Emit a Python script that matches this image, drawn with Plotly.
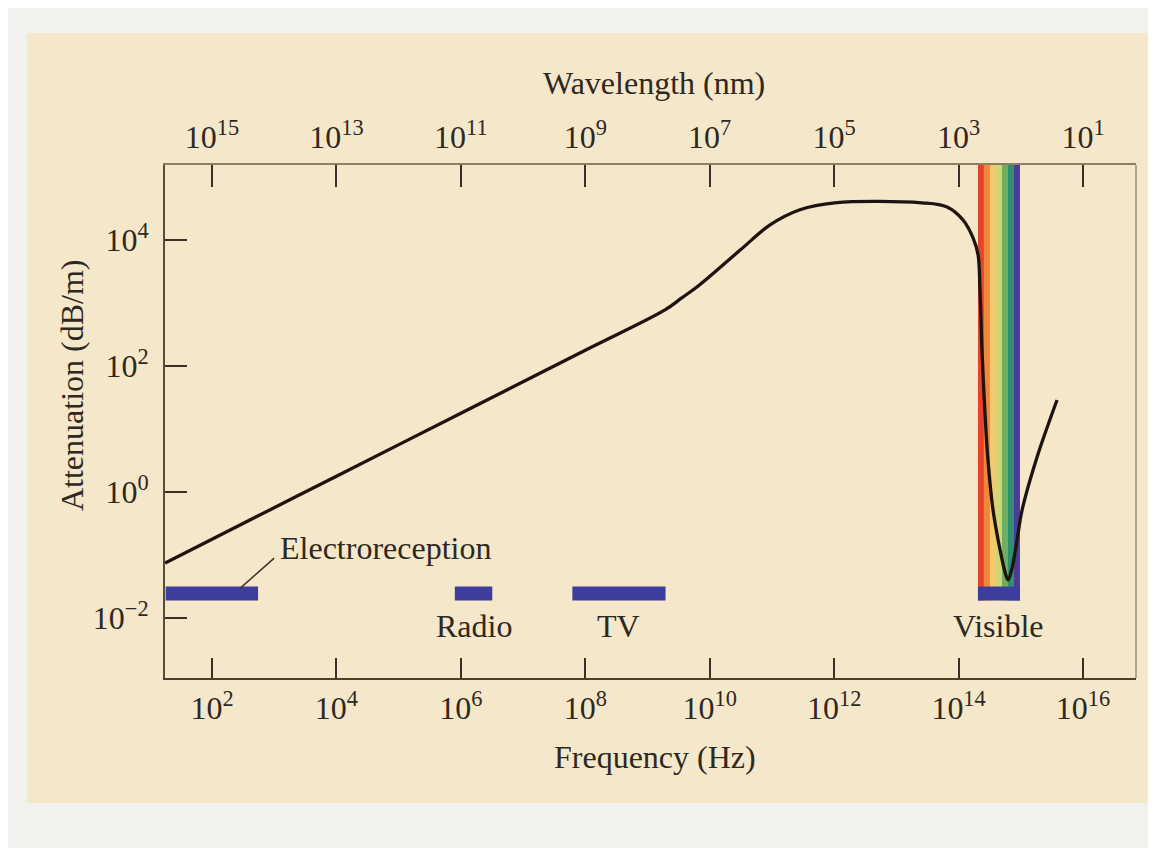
import numpy as np
import plotly.graph_objects as go

# ---------------- data ----------------
freq_hz = [17.6, 1.0e2, 1.0e4, 1.0e6, 1.0e8, 1.91e9, 3.55e9, 6.92e9, 3.09e10, 9.33e10,
           2.82e11, 1.02e12, 2.57e13, 6.53e13, 1.18e14, 1.71e14, 2.06e14,
           2.21e14, 2.30e14, 2.38e14, 2.66e14, 2.97e14, 3.58e14, 4.65e14,
           5.58e14, 6.24e14, 7.24e14, 8.71e14, 1.05e15, 1.83e15, 3.83e15]
atten_db_m = [0.0746, 0.178, 1.78, 17.8, 178, 776, 1202, 1950, 6918, 17378,
              30200, 38905, 38905, 33420, 20750, 10770, 5780,
              1607, 537, 179.5, 17.9, 3.22, 0.518, 0.120,
              0.0537, 0.0401, 0.0622, 0.173, 0.518, 3.60, 28.8]

band_names = ["Electroreception", "Radio", "TV", "Visible"]
band_start_hz = [18, 8.0e5, 6.2e7, 2.05e14]
band_end_hz = [550, 3.2e6, 1.95e9, 9.7e14]

spectrum_colors = ["#e6442a", "#f1873b", "#f4c86c", "#cfd673", "#6dae60", "#2f8e70", "#4b3c95"]

freq_tick_vals = [1e2, 1e4, 1e6, 1e8, 1e10, 1e12, 1e14, 1e16]
freq_tick_text = ["10<sup>2</sup>", "10<sup>4</sup>", "10<sup>6</sup>", "10<sup>8</sup>",
                  "10<sup>10</sup>", "10<sup>12</sup>", "10<sup>14</sup>", "10<sup>16</sup>"]
wl_tick_vals = [1e15, 1e13, 1e11, 1e9, 1e7, 1e5, 1e3, 1e1]
wl_tick_text = ["10<sup>15</sup>", "10<sup>13</sup>", "10<sup>11</sup>", "10<sup>9</sup>",
                "10<sup>7</sup>", "10<sup>5</sup>", "10<sup>3</sup>", "10<sup>1</sup>"]
att_tick_vals = [1e-2, 1e0, 1e2, 1e4]
att_tick_text = ["10<sup>\u22122</sup>", "10<sup>0</sup>", "10<sup>2</sup>", "10<sup>4</sup>"]

# ---------------- styling ----------------
FONT = "Liberation Serif"
TXT = "#2e2822"
BEIGE = "#f5e7c9"
BAR = "#3d3e9b"
band_lo, band_hi = 10 ** -1.72, 10 ** -1.50
y_range = [-2.952, 5.19]
x_range = [1.2445, 16.852]
wl_range = [15.7555, 0.148]

fig = go.Figure()

fig.add_trace(go.Scatter(
    x=freq_hz, y=atten_db_m, mode="lines",
    line=dict(color="#1c1410", width=3.3, shape="spline", smoothing=1.0),
    hoverinfo="skip", showlegend=False))

# invisible trace so the wavelength axis is drawn
fig.add_trace(go.Scatter(
    x=wl_tick_vals, y=[1e-2] * len(wl_tick_vals), xaxis="x2", yaxis="y",
    mode="markers", marker=dict(opacity=0), hoverinfo="skip", showlegend=False))

shapes = []
# beige page panel
shapes.append(dict(type="rect", xref="paper", yref="paper",
                   x0=-0.1421, x1=1.03, y0=-0.2437, y1=1.2573,
                   fillcolor=BEIGE, line=dict(width=0), layer="below"))

# visible spectrum stripes
vis_i = band_names.index("Visible")
edges = np.logspace(np.log10(band_start_hz[vis_i]), np.log10(band_end_hz[vis_i]),
                    len(spectrum_colors) + 1)
for i, c in enumerate(spectrum_colors):
    shapes.append(dict(type="rect", xref="x", yref="y",
                       x0=edges[i], x1=edges[i + 1], y0=band_lo, y1=10 ** y_range[1],
                       fillcolor=c, line=dict(width=0), layer="below"))

# band bars
for s, e in zip(band_start_hz, band_end_hz):
    shapes.append(dict(type="rect", xref="x", yref="y", x0=s, x1=e,
                       y0=band_lo, y1=band_hi, fillcolor=BAR,
                       line=dict(width=0), layer="below"))

# pointer for electroreception label
shapes.append(dict(type="line", xref="x", yref="y",
                   x0=10 ** 2.45, y0=10 ** -1.53, x1=10 ** 3.0, y1=10 ** -1.05,
                   line=dict(color="#3a3128", width=1.5)))

# right frame line
shapes.append(dict(type="line", xref="paper", yref="paper", x0=1, x1=1, y0=0, y1=1,
                   line=dict(color="#9c8e74", width=1.5)))

annotations = []
lab_font = dict(family=FONT, size=32, color=TXT)
annotations.append(dict(text="Electroreception", xref="x", yref="y",
                        x=3.06, y=-0.889, xanchor="left", yanchor="middle",
                        showarrow=False, font=lab_font))
for name, s, e in zip(band_names, band_start_hz, band_end_hz):
    if name == "Electroreception":
        continue
    annotations.append(dict(text=name, xref="x", yref="y",
                            x=(np.log10(s) + np.log10(e)) / 2, y=-2.12,
                            xanchor="center", yanchor="middle",
                            showarrow=False, font=lab_font))

annotations.append(dict(text="Wavelength (nm)", xref="paper", yref="paper",
                        x=0.504, y=1.160, xanchor="center", yanchor="middle",
                        showarrow=False, font=lab_font))
annotations.append(dict(text="Frequency (Hz)", xref="paper", yref="paper",
                        x=0.5046, y=-0.154, xanchor="center", yanchor="middle",
                        showarrow=False, font=lab_font))
annotations.append(dict(text="Attenuation (dB/m)", xref="paper", yref="paper",
                        x=-0.0958, y=0.571, xanchor="center", yanchor="middle",
                        textangle=-90, showarrow=False, font=lab_font))

tick_font = dict(family=FONT, size=32, color=TXT)

fig.update_layout(
    width=1148, height=840,
    margin=dict(l=157, r=20, t=157, b=170, pad=0),
    paper_bgcolor="#f1f1ee",
    plot_bgcolor=BEIGE,
    showlegend=False,
    shapes=shapes,
    annotations=annotations,
    xaxis=dict(type="log", range=x_range, tickmode="array",
               tickvals=freq_tick_vals, ticktext=freq_tick_text,
               ticks="inside", ticklen=20, tickwidth=2, tickcolor="#3a3126",
               showline=True, linecolor="#4b3f31", linewidth=2,
               showgrid=False, zeroline=False, tickfont=tick_font,
               ticklabelstandoff=1),
    xaxis2=dict(type="log", range=wl_range, overlaying="x", side="top",
                tickmode="array", tickvals=wl_tick_vals, ticktext=wl_tick_text,
                ticks="inside", ticklen=22, tickwidth=2, tickcolor="#3a3126",
                showline=True, linecolor="#8e7f64", linewidth=2,
                showgrid=False, zeroline=False, tickfont=tick_font,
                ticklabelstandoff=2),
    yaxis=dict(type="log", range=y_range, tickmode="array",
               tickvals=att_tick_vals, ticktext=att_tick_text,
               ticks="inside", ticklen=22, tickwidth=2, tickcolor="#3a3126",
               showline=True, linecolor="#5a4c3a", linewidth=2,
               showgrid=False, zeroline=False, tickfont=tick_font,
               ticklabelstandoff=8),
)

fig.write_html("out.html")
